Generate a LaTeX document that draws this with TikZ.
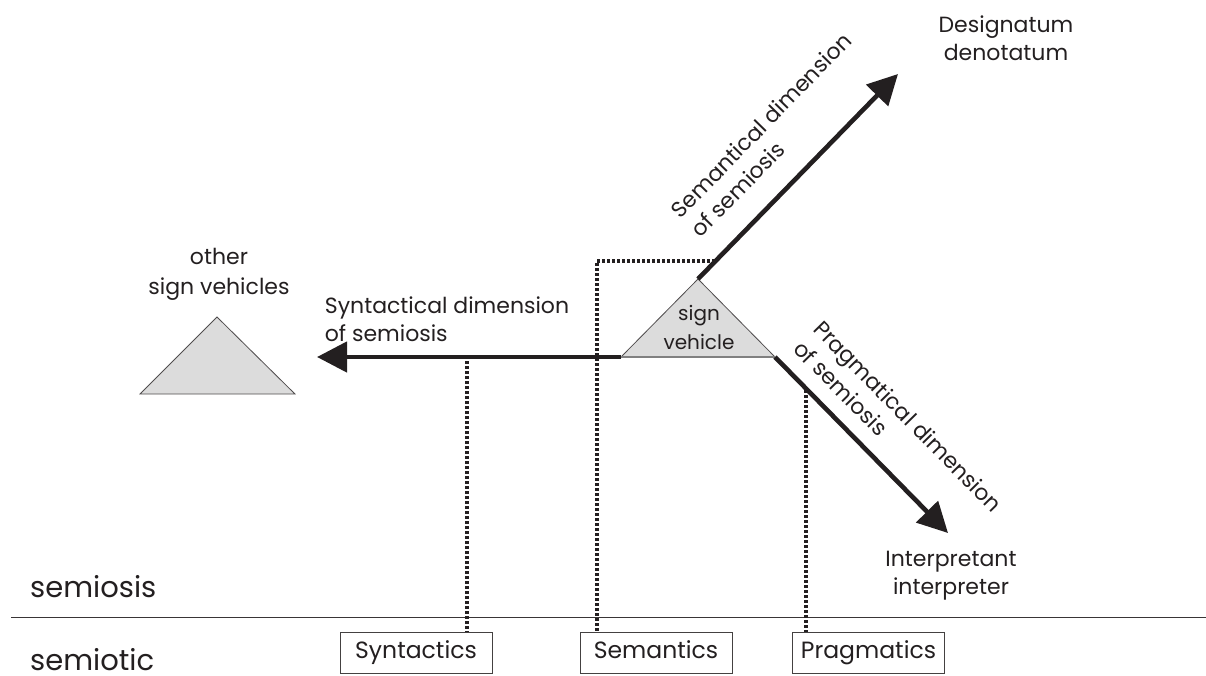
\documentclass[tikz,border=0pt]{standalone}
\usepackage{fontspec}
\setmainfont{Poppins}
\usetikzlibrary{arrows.meta}
\definecolor{ink}{HTML}{231F20}
\definecolor{trifill}{HTML}{DCDCDC}
\begin{document}
\begin{tikzpicture}[x=1pt,y=-1pt,
  every node/.style={text=ink, inner sep=0pt},
  caption/.style={font=\fontsize{22}{28}\selectfont},
  bigcaption/.style={font=\fontsize{29}{34}\selectfont, text depth=0pt},
  dimarrow/.style={draw=ink, line width=4.6pt, -{Triangle[length=30pt,width=30pt]}},
  dotline/.style={draw=ink, line width=3.2pt, dash pattern=on 3pt off 2pt},
  vehicle/.style={draw=ink!80, line width=0.8pt, fill=trifill},
  branchbox/.style={draw=ink!85, line width=0.9pt, minimum width=152pt, minimum height=41pt,
    text height=16pt, text depth=4pt, font=\fontsize{23.5}{26}\selectfont}
]
\useasboundingbox (0,0) rectangle (1206,675);

% the sign vehicle and the other sign vehicles
\coordinate (sv-top) at (698,279);
\coordinate (sv-left) at (621,357);
\coordinate (sv-right) at (775,357);
\path[vehicle] (sv-top) -- (sv-right) -- (sv-left) -- cycle;
\draw[gray, line width=1.6pt] (sv-left) -- (sv-right);
\node[align=center, font=\fontsize{20}{29}\selectfont] (sv-text) at (699,327) {sign\\vehicle};

\coordinate (ov-top) at (217,317);
\coordinate (ov-left) at (140,394);
\coordinate (ov-right) at (295,394);
\path[vehicle] (ov-top) -- (ov-right) -- (ov-left) -- cycle;
\node[align=center, font=\fontsize{22}{30}\selectfont] (ov-text) at (219,274) {other\\sign vehicles};

% the three dimensions of semiosis
\coordinate (syn-end) at (317,357);
\coordinate (sem-end) at (898,74);
\coordinate (prag-end) at (948,533);
\draw[dimarrow] (sv-left) -- (syn-end);
\draw[dimarrow] (sv-top) -- (sem-end);
\draw[dimarrow] (sv-right) -- (prag-end);

\node[caption, align=left] (syn-text) at (447,319) {Syntactical dimension\\of semiosis};
\node[caption, align=left, rotate=45.7] (sem-text) at (771,135) {Semantical dimension\\of semiosis};
\node[caption, align=left, rotate=-45.5] (prag-text) at (898,426) {Pragmatical dimension\\of semiosis};

\node[caption, align=center] (designatum) at (1006,38) {Designatum\\denotatum};
\node[caption, align=center] (interpretant) at (951,576) {Interpretant\\interpreter};

% semiosis / semiotic divide
\coordinate (rule-l) at (11,617);
\coordinate (rule-r) at (1206,617);
\draw[ink!90, line width=1pt] (rule-l) -- (rule-r);
\node[bigcaption, anchor=base west] (semiosis) at (30,597) {semiosis};
\node[bigcaption, anchor=base west] (semiotic) at (30,670) {semiotic};

% branches of semiotic
\node[branchbox] (syntactics) at (416,652.5) {Syntactics};
\node[branchbox] (semantics) at (656,652.5) {Semantics};
\node[branchbox] (pragmatics) at (868.5,652.5) {Pragmatics};

% dotted links from each dimension to its branch
\coordinate (syn-join) at (467,361);
\coordinate (sem-join) at (715,261);
\coordinate (sem-corner) at (597,261);
\coordinate (prag-join) at (806,390);
\draw[dotline] (syn-join) -- (syn-join |- syntactics.north);
\draw[dotline] (sem-join) -- (sem-corner) -- (sem-corner |- semantics.north);
\draw[dotline] (prag-join) -- (prag-join |- pragmatics.north);
\end{tikzpicture}
\end{document}
